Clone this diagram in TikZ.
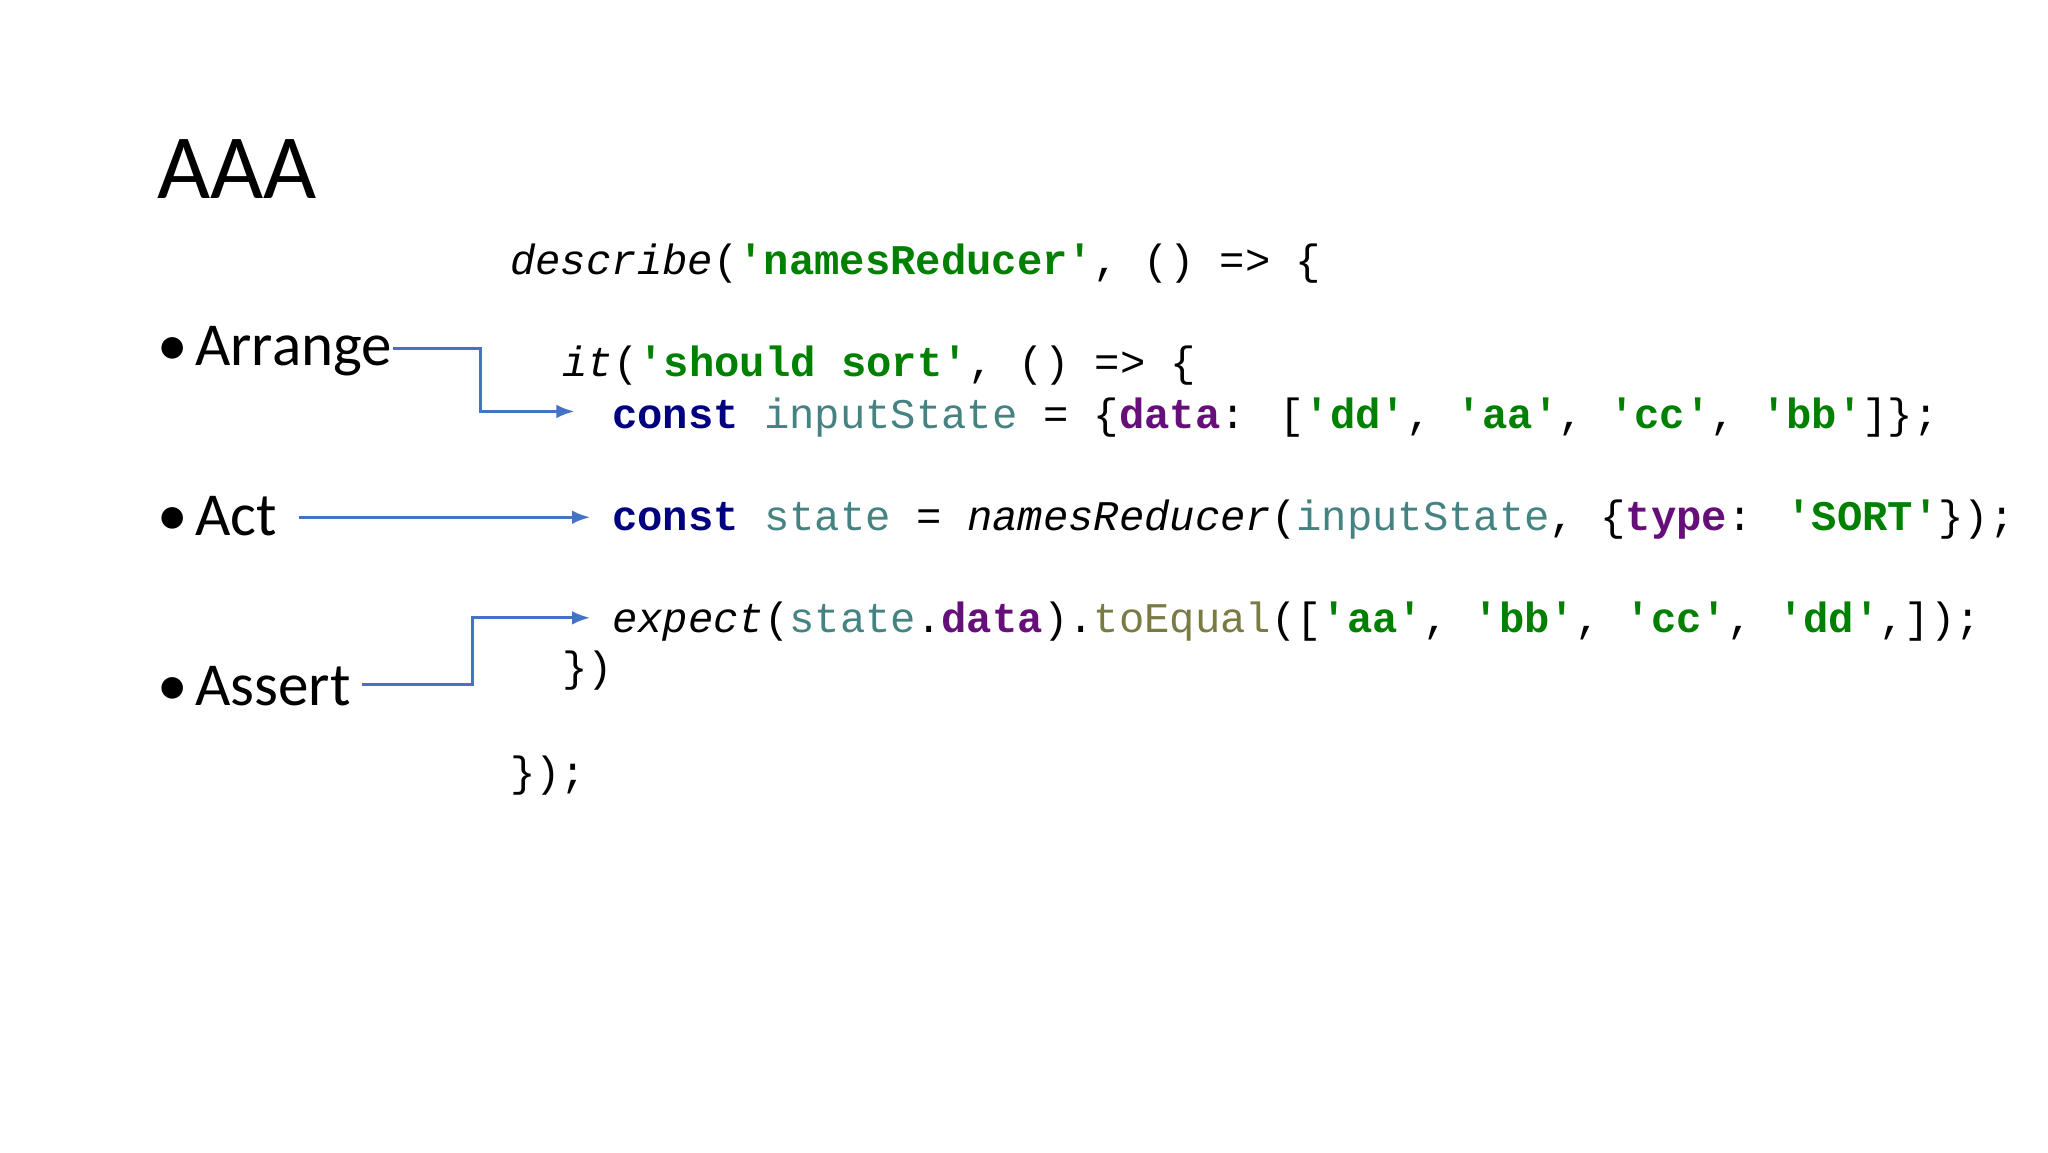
\documentclass[tikz,border=0pt]{standalone}
\usepackage{fontspec}
\setmainfont{Carlito}
\newfontfamily\codefont{Liberation Mono}
\usetikzlibrary{arrows.meta}
\definecolor{kwblue}{HTML}{000080}
\definecolor{strgreen}{HTML}{008000}
\definecolor{varteal}{HTML}{458383}
\definecolor{propviolet}{HTML}{660E7A}
\definecolor{methodolive}{HTML}{7A7A43}
\definecolor{arrowblue}{HTML}{4472C4}
\newcommand{\kw}[1]{\textcolor{kwblue}{\bfseries #1}}
\newcommand{\str}[1]{\textcolor{strgreen}{\bfseries #1}}
\newcommand{\var}[1]{\textcolor{varteal}{#1}}
\newcommand{\prop}[1]{\textcolor{propviolet}{\bfseries #1}}
\newcommand{\meth}[1]{\textcolor{methodolive}{#1}}
\tikzset{
  codeline/.style={anchor=base west, inner sep=0pt, font=\codefont\fontsize{9.2}{11}\selectfont},
  bullet/.style={anchor=base west, inner sep=0pt, font=\fontsize{13.3}{16}\selectfont},
  link/.style={draw=arrowblue, line width=0.7pt, -{Latex[length=4pt,width=3pt]}}
}
\begin{document}
\begin{tikzpicture}[x=1cm,y=1cm]
\useasboundingbox (0,0) rectangle (15.68,-8.82);
\node[anchor=base west, inner sep=0pt, font=\fontsize{20}{24}\selectfont] (title) at (1.2,-1.52) {AAA};
% bullets
\node[bullet] (arrange) at (1.2,-2.80) {\textbullet\hspace{0.12em}Arrange};
\node[bullet] (act) at (1.2,-4.10) {\textbullet\hspace{0.12em}Act};
\node[bullet] (assert) at (1.2,-5.40) {\textbullet\hspace{0.12em}Assert};
% code
\node[codeline] (describe) at (3.90,-2.10) {\textit{describe}(\str{'namesReducer'}, () => \{};
\node[codeline] (itline) at (4.30,-2.88) {\textit{it}(\str{'should sort'}, () => \{};
\node[codeline] (arrline) at (4.68,-3.28) {\kw{const} \var{inputState} = \{\prop{data}: [\str{'dd'}, \str{'aa'}, \str{'cc'}, \str{'bb'}]\};};
\node[codeline] (actline) at (4.68,-4.06) {\kw{const} \var{state} = \textit{namesReducer}(\var{inputState}, \{\prop{type}: \str{'SORT'}\});};
\node[codeline] (assline) at (4.68,-4.84) {\textit{expect}(\var{state}.\prop{data}).\meth{toEqual}([\str{'aa'}, \str{'bb'}, \str{'cc'}, \str{'dd'},]);};
\node[codeline] (itend) at (4.30,-5.22) {\})};
\node[codeline] (descend) at (3.90,-6.02) {\});};
% connectors
\coordinate (arrtip) at (4.40,-3.15);
\coordinate (acttip) at (4.52,-3.96);
\coordinate (asstip) at (4.52,-4.73);
\draw[link] (arrange.east |- 0,-2.67) -- (3.68,-2.67) |- (arrtip);
\draw[link] ([xshift=0.16cm]act.east |- 0,-3.96) -- (acttip);
\draw[link] ([xshift=0.08cm]assert.east |- 0,-5.24) -- (3.62,-5.24) |- (asstip);
\end{tikzpicture}
\end{document}
